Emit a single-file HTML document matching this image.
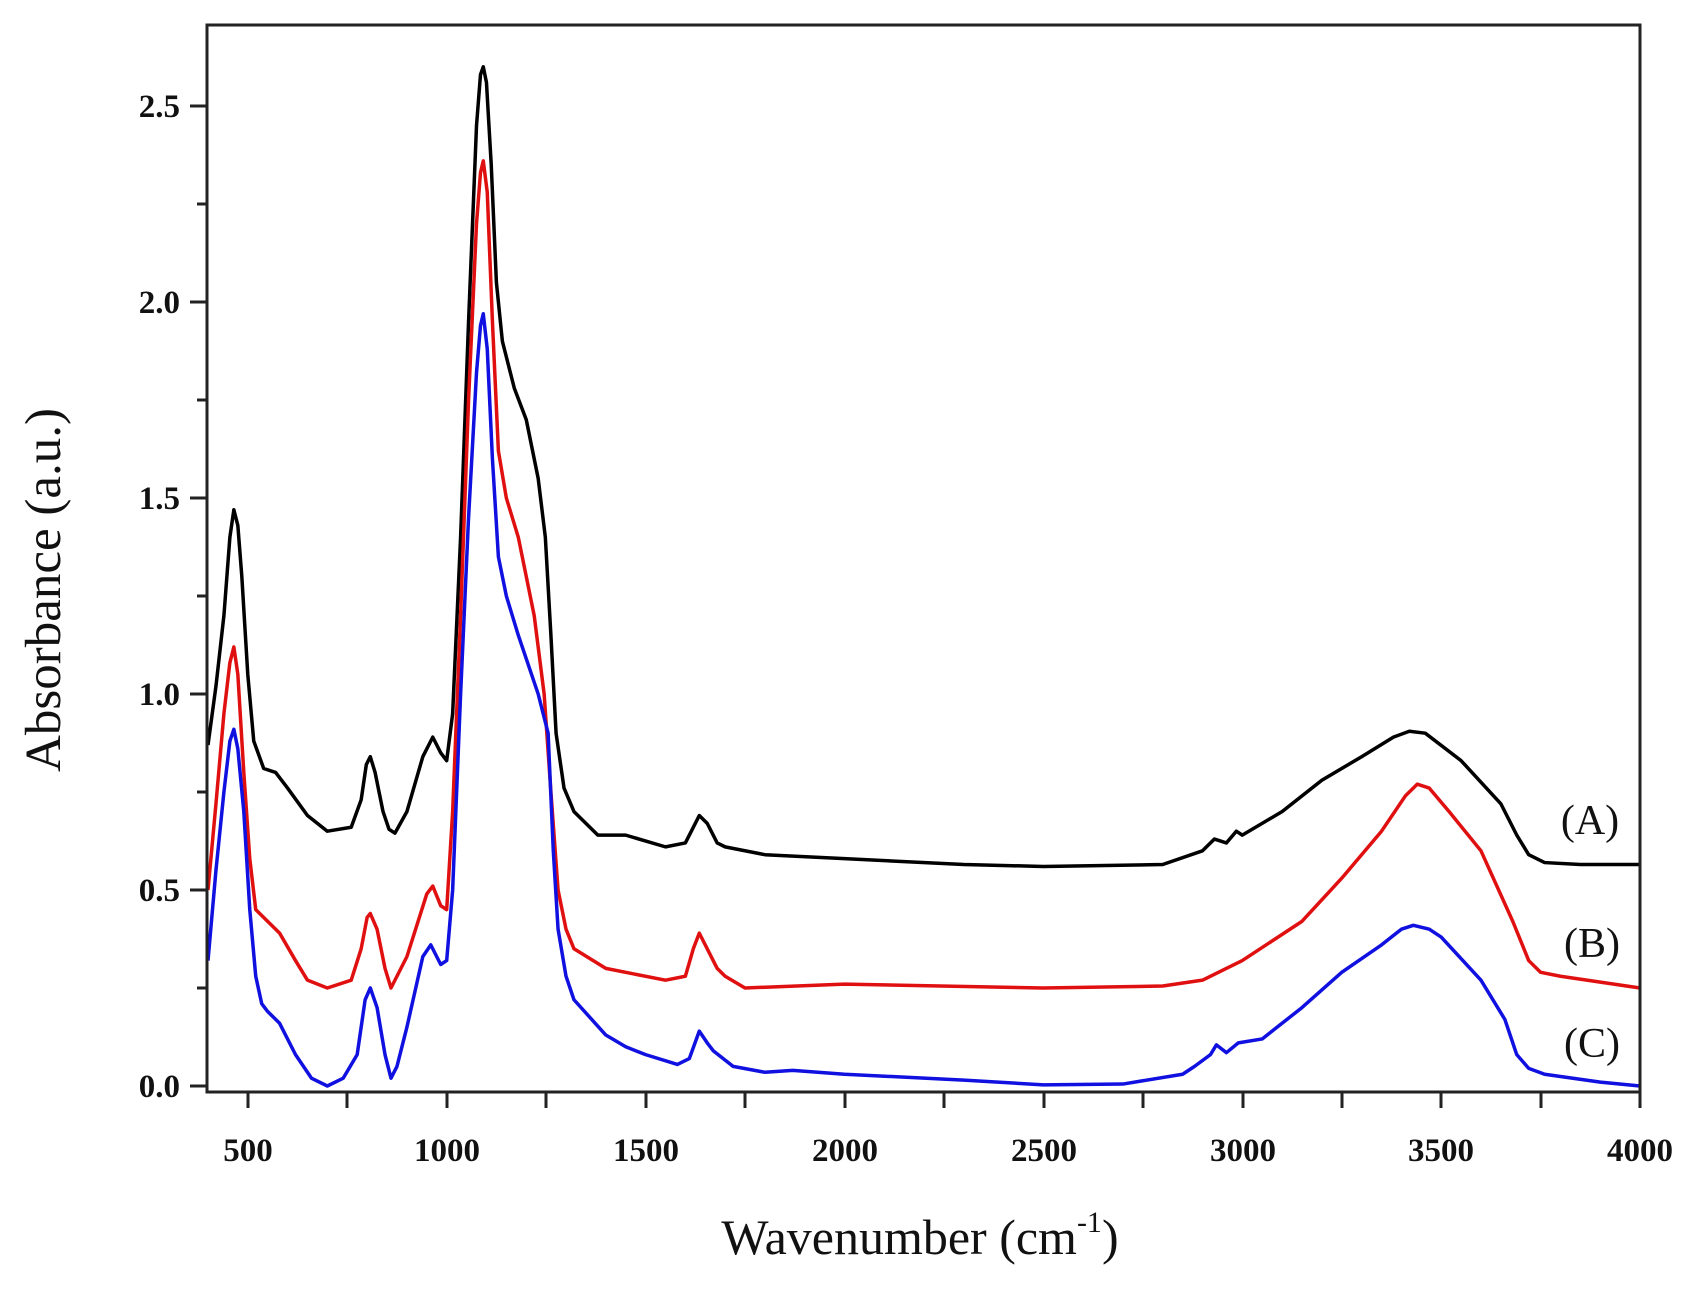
<!DOCTYPE html>
<html><head><meta charset="utf-8"><style>
html,body{margin:0;padding:0;background:#fff}
svg{display:block}
text{font-family:"Liberation Serif",serif}
</style></head><body>
<svg width="1703" height="1292" viewBox="0 0 1703 1292" xmlns="http://www.w3.org/2000/svg">
<rect width="1703" height="1292" fill="#fff"/>
<g transform="translate(208,1086) scale(0.3978,-392) translate(-400,0)" fill="none" stroke-width="3.5" stroke-linejoin="round">
<polyline vector-effect="non-scaling-stroke" stroke="#000" points="400,0.87 420,1.02 440,1.2 455,1.4 465,1.47 475,1.43 485,1.3 500,1.05 515,0.88 540,0.81 570,0.8 600,0.76 650,0.69 700,0.65 760,0.66 785,0.73 798,0.82 808,0.84 820,0.8 840,0.7 855,0.655 870,0.645 900,0.7 940,0.84 965,0.89 985,0.85 1000,0.83 1015,0.95 1035,1.4 1055,1.95 1075,2.45 1085,2.58 1092,2.6 1100,2.56 1112,2.35 1125,2.05 1140,1.9 1170,1.78 1200,1.7 1230,1.55 1248,1.4 1262,1.15 1275,0.9 1295,0.76 1320,0.7 1380,0.64 1450,0.64 1550,0.61 1600,0.62 1620,0.66 1635,0.69 1655,0.67 1680,0.62 1700,0.61 1800,0.59 2000,0.58 2300,0.565 2500,0.56 2800,0.565 2900,0.6 2930,0.63 2960,0.62 2985,0.65 3000,0.64 3100,0.7 3200,0.78 3300,0.84 3380,0.89 3420,0.905 3460,0.9 3550,0.83 3650,0.72 3690,0.64 3720,0.59 3760,0.57 3850,0.565 4000,0.565"/>
<polyline vector-effect="non-scaling-stroke" stroke="#e01010" points="400,0.5 420,0.72 440,0.95 455,1.08 465,1.12 475,1.05 490,0.8 505,0.58 520,0.45 550,0.42 580,0.39 620,0.32 650,0.27 700,0.25 760,0.27 785,0.35 800,0.43 808,0.44 825,0.4 845,0.3 860,0.25 900,0.33 950,0.49 965,0.51 985,0.46 1000,0.45 1015,0.7 1035,1.2 1055,1.75 1075,2.2 1085,2.33 1092,2.36 1102,2.28 1115,1.95 1130,1.62 1150,1.5 1180,1.4 1220,1.2 1245,1.0 1262,0.75 1280,0.5 1300,0.4 1320,0.35 1400,0.3 1550,0.27 1600,0.28 1620,0.35 1635,0.39 1655,0.35 1680,0.3 1700,0.28 1750,0.25 2000,0.26 2500,0.25 2800,0.255 2900,0.27 3000,0.32 3150,0.42 3250,0.53 3350,0.65 3410,0.74 3440,0.77 3470,0.76 3520,0.7 3600,0.6 3680,0.42 3720,0.32 3750,0.29 3800,0.28 4000,0.25"/>
<polyline vector-effect="non-scaling-stroke" stroke="#1010e0" points="400,0.32 420,0.55 440,0.75 455,0.88 465,0.91 475,0.86 490,0.7 505,0.45 520,0.28 535,0.21 550,0.19 580,0.16 620,0.08 660,0.02 700,0.0 740,0.02 775,0.08 795,0.22 808,0.25 825,0.2 845,0.08 860,0.02 875,0.05 900,0.15 940,0.33 960,0.36 985,0.31 1000,0.32 1015,0.5 1035,1.0 1055,1.45 1075,1.82 1085,1.94 1092,1.97 1102,1.88 1115,1.6 1130,1.35 1150,1.25 1180,1.15 1230,1.0 1255,0.9 1268,0.6 1280,0.4 1300,0.28 1320,0.22 1400,0.13 1450,0.1 1500,0.08 1580,0.055 1610,0.07 1635,0.14 1655,0.11 1670,0.09 1720,0.05 1800,0.035 1870,0.04 2000,0.03 2300,0.015 2500,0.003 2700,0.005 2850,0.03 2880,0.05 2920,0.08 2935,0.105 2960,0.085 2990,0.11 3050,0.12 3150,0.2 3250,0.29 3350,0.36 3400,0.4 3430,0.41 3470,0.4 3500,0.38 3600,0.27 3660,0.17 3690,0.08 3720,0.045 3760,0.03 3900,0.01 4000,0.0"/>
</g>
<rect x="207" y="25" width="1433" height="1067" fill="none" stroke="#222" stroke-width="3"/>
<g stroke="#222" stroke-width="3">
<line x1="190" y1="1086" x2="207" y2="1086"/><line x1="197" y1="988" x2="207" y2="988"/>
<line x1="190" y1="890" x2="207" y2="890"/><line x1="197" y1="792" x2="207" y2="792"/>
<line x1="190" y1="694" x2="207" y2="694"/><line x1="197" y1="596" x2="207" y2="596"/>
<line x1="190" y1="498" x2="207" y2="498"/><line x1="197" y1="400" x2="207" y2="400"/>
<line x1="190" y1="302" x2="207" y2="302"/><line x1="197" y1="204" x2="207" y2="204"/>
<line x1="190" y1="106" x2="207" y2="106"/>
<line x1="248" y1="1092" x2="248" y2="1108"/><line x1="347" y1="1092" x2="347" y2="1108"/>
<line x1="447" y1="1092" x2="447" y2="1108"/><line x1="546" y1="1092" x2="546" y2="1108"/>
<line x1="646" y1="1092" x2="646" y2="1108"/><line x1="745" y1="1092" x2="745" y2="1108"/>
<line x1="845" y1="1092" x2="845" y2="1108"/><line x1="944" y1="1092" x2="944" y2="1108"/>
<line x1="1044" y1="1092" x2="1044" y2="1108"/><line x1="1143" y1="1092" x2="1143" y2="1108"/>
<line x1="1243" y1="1092" x2="1243" y2="1108"/><line x1="1342" y1="1092" x2="1342" y2="1108"/>
<line x1="1441" y1="1092" x2="1441" y2="1108"/><line x1="1541" y1="1092" x2="1541" y2="1108"/>
<line x1="1640" y1="1092" x2="1640" y2="1108"/>
</g>
<g font-size="33" font-weight="bold" text-anchor="end" fill="#111">
<text x="180" y="1097">0.0</text><text x="180" y="901">0.5</text><text x="180" y="705">1.0</text>
<text x="180" y="509">1.5</text><text x="180" y="313">2.0</text><text x="180" y="117">2.5</text>
</g>
<g font-size="33" font-weight="bold" text-anchor="middle" fill="#111">
<text x="248" y="1161">500</text><text x="447" y="1161">1000</text><text x="646" y="1161">1500</text>
<text x="845" y="1161">2000</text><text x="1044" y="1161">2500</text><text x="1243" y="1161">3000</text>
<text x="1441" y="1161">3500</text><text x="1640" y="1161">4000</text>
</g>
<text x="920" y="1254" font-size="50" text-anchor="middle" fill="#111">Wavenumber (cm<tspan font-size="30" dy="-22">-1</tspan><tspan dy="22">)</tspan></text>
<text transform="translate(60,590) rotate(-90)" font-size="51" text-anchor="middle" fill="#111">Absorbance (a.u.)</text>
<g font-size="42" text-anchor="middle" fill="#111">
<text x="1590" y="834">(A)</text><text x="1592" y="957">(B)</text><text x="1592" y="1057">(C)</text>
</g>
</svg>
</body></html>
